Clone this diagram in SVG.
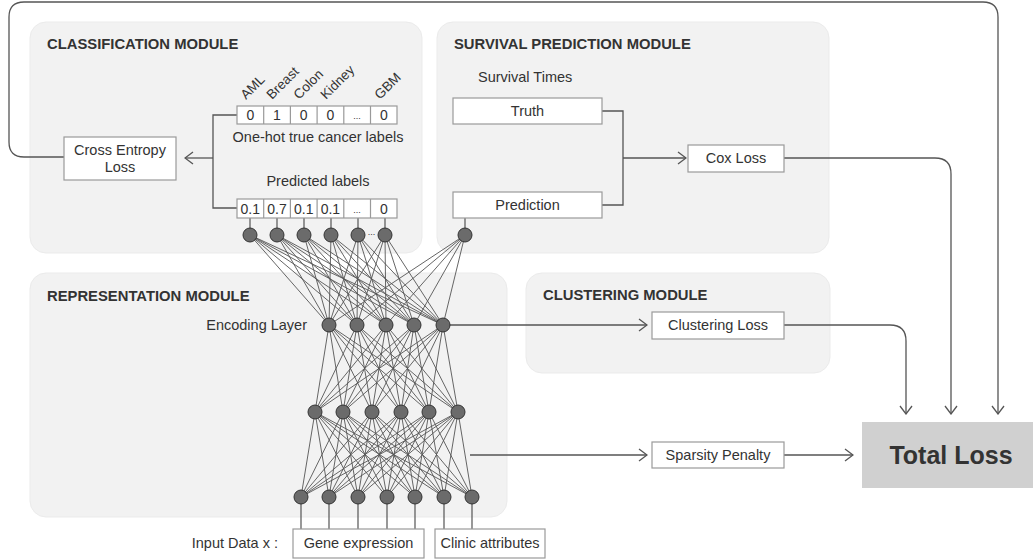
<svg xmlns="http://www.w3.org/2000/svg" width="1033" height="560" viewBox="0 0 1033 560">
<style>
text{font-family:"Liberation Sans",Arial,sans-serif;fill:#333}
.t{font-size:14.5px}
.c{font-size:14px;text-anchor:middle}
.m{text-anchor:middle}
.h{font-size:14.8px;font-weight:bold}
.lab{font-size:13.5px}
.mod{fill:#f2f2f2;stroke:#ebebeb;stroke-width:1}
.box{fill:#fff;stroke:#9a9a9a;stroke-width:1.2}
.ln{fill:none;stroke:#555;stroke-width:1.3}
.net{fill:none;stroke:#555;stroke-width:0.9}
.stem{fill:none;stroke:#555;stroke-width:1.2}
.nd{fill:#6b6b6b;stroke:#333;stroke-width:1}
</style>
<defs>
<marker id="arr" viewBox="0 0 10 14" refX="9" refY="7" markerWidth="10" markerHeight="14" orient="auto" markerUnits="userSpaceOnUse">
<path d="M1,1 L9,7 L1,13" fill="none" stroke="#555" stroke-width="1.3"/>
</marker>
</defs>

<g id="modules">
<rect id="classification-module" class="mod" x="30" y="22" width="392" height="231" rx="16"/>
<rect id="survival-module" class="mod" x="437" y="22" width="392" height="231" rx="16"/>
<rect id="representation-module" class="mod" x="30" y="273" width="477" height="244" rx="16"/>
<rect id="clustering-module" class="mod" x="526" y="273" width="304" height="100" rx="16"/>
<text class="h" x="47" y="49">CLASSIFICATION MODULE</text>
<text class="h" x="454" y="49">SURVIVAL PREDICTION MODULE</text>
<text class="h" x="47" y="301">REPRESENTATION MODULE</text>
<text class="h" x="543" y="300">CLUSTERING MODULE</text>
</g>

<g id="connectors">
<path class="ln" d="M64 157 H24 Q9 157 9 142 V17 Q9 2 24 2 H983 Q998 2 998 17 V414" marker-end="url(#arr)"/>
<path class="ln" d="M237 115 H213 V208 H237"/>
<path class="ln" d="M213 158 H185" marker-end="url(#arr)"/>
<path class="ln" d="M602 111 H623 V205 H602"/>
<path class="ln" d="M623 158 H686" marker-end="url(#arr)"/>
<path class="ln" d="M784 158 H935 Q951 158 951 174 V414" marker-end="url(#arr)"/>
<path class="ln" d="M443 325 H647" marker-end="url(#arr)"/>
<path class="ln" d="M784 325 H890 Q906 325 906 341 V414" marker-end="url(#arr)"/>
<path class="ln" d="M470 455 H647" marker-end="url(#arr)"/>
<path class="ln" d="M784 455 H853" marker-end="url(#arr)"/>
<path class="stem" d="M250 218V235M277 218V235M304 218V235M331 218V235M358 218V235M385 218V235M465 218V235"/>
<path class="stem" d="M301 497V529M329 497V529M358 497V529M387 497V529M415 497V529M444 497V529M472 497V529"/>
<path class="net" d="M250 235L329 325M250 235L357 325M250 235L386 325M250 235L414 325M250 235L443 325
M277 235L329 325M277 235L357 325M277 235L386 325M277 235L414 325M277 235L443 325
M304 235L329 325M304 235L357 325M304 235L386 325M304 235L414 325M304 235L443 325
M331 235L329 325M331 235L357 325M331 235L386 325M331 235L414 325M331 235L443 325
M358 235L329 325M358 235L357 325M358 235L386 325M358 235L414 325M358 235L443 325
M385 235L329 325M385 235L357 325M385 235L386 325M385 235L414 325M385 235L443 325
M465 235L329 325M465 235L357 325M465 235L386 325M465 235L414 325M465 235L443 325
M329 325L315 412M329 325L343 412M329 325L372 412M329 325L401 412M329 325L429 412M329 325L458 412
M357 325L315 412M357 325L343 412M357 325L372 412M357 325L401 412M357 325L429 412M357 325L458 412
M386 325L315 412M386 325L343 412M386 325L372 412M386 325L401 412M386 325L429 412M386 325L458 412
M414 325L315 412M414 325L343 412M414 325L372 412M414 325L401 412M414 325L429 412M414 325L458 412
M443 325L315 412M443 325L343 412M443 325L372 412M443 325L401 412M443 325L429 412M443 325L458 412
M315 412L301 497M315 412L329 497M315 412L358 497M315 412L387 497M315 412L415 497M315 412L444 497M315 412L472 497
M343 412L301 497M343 412L329 497M343 412L358 497M343 412L387 497M343 412L415 497M343 412L444 497M343 412L472 497
M372 412L301 497M372 412L329 497M372 412L358 497M372 412L387 497M372 412L415 497M372 412L444 497M372 412L472 497
M401 412L301 497M401 412L329 497M401 412L358 497M401 412L387 497M401 412L415 497M401 412L444 497M401 412L472 497
M429 412L301 497M429 412L329 497M429 412L358 497M429 412L387 497M429 412L415 497M429 412L444 497M429 412L472 497
M458 412L301 497M458 412L329 497M458 412L358 497M458 412L387 497M458 412L415 497M458 412L444 497M458 412L472 497"/>
</g>

<g id="network-nodes">
<g id="output-layer">
<circle class="nd" cx="250" cy="235" r="7"/><circle class="nd" cx="277" cy="235" r="7"/><circle class="nd" cx="304" cy="235" r="7"/><circle class="nd" cx="331" cy="235" r="7"/><circle class="nd" cx="358" cy="235" r="7"/><circle class="nd" cx="385" cy="235" r="7"/>
<text x="371.5" y="235" class="m" style="font-size:9px">...</text>
<circle class="nd" cx="465" cy="235" r="7"/>
</g>
<g id="encoding-layer">
<circle class="nd" cx="329" cy="325" r="7"/><circle class="nd" cx="357" cy="325" r="7"/><circle class="nd" cx="386" cy="325" r="7"/><circle class="nd" cx="414" cy="325" r="7"/><circle class="nd" cx="443" cy="325" r="7"/>
<text class="t" x="307" y="330" text-anchor="end">Encoding Layer</text>
</g>
<g id="hidden-layer">
<circle class="nd" cx="315" cy="412" r="7"/><circle class="nd" cx="343" cy="412" r="7"/><circle class="nd" cx="372" cy="412" r="7"/><circle class="nd" cx="401" cy="412" r="7"/><circle class="nd" cx="429" cy="412" r="7"/><circle class="nd" cx="458" cy="412" r="7"/>
</g>
<g id="input-layer">
<circle class="nd" cx="301" cy="497" r="7"/><circle class="nd" cx="329" cy="497" r="7"/><circle class="nd" cx="358" cy="497" r="7"/><circle class="nd" cx="387" cy="497" r="7"/><circle class="nd" cx="415" cy="497" r="7"/><circle class="nd" cx="444" cy="497" r="7"/><circle class="nd" cx="472" cy="497" r="7"/>
</g>
</g>

<g id="cancer-names">
<text class="lab" transform="translate(246,100) rotate(-45)">AML</text>
<text class="lab" transform="translate(272,100) rotate(-45)">Breast</text>
<text class="lab" transform="translate(299,100) rotate(-45)">Colon</text>
<text class="lab" transform="translate(326,100) rotate(-45)">Kidney</text>
<text class="lab" transform="translate(380,100) rotate(-45)">GBM</text>
</g>

<g id="one-hot-labels">
<rect class="box" x="237" y="106" width="160" height="18"/>
<path class="box" d="M263.7 106V124M290.4 106V124M317.1 106V124M343.8 106V124M370.5 106V124"/>
<text class="c" x="250.3" y="120">0</text><text class="c" x="277" y="120">1</text><text class="c" x="303.7" y="120">0</text><text class="c" x="330.4" y="120">0</text><text class="m" x="357.1" y="119" style="font-size:9px">...</text><text class="c" x="383.8" y="120">0</text>
<text class="t m" x="318" y="142">One-hot true cancer labels</text>
</g>

<g id="predicted-labels">
<text class="t m" x="318" y="186">Predicted labels</text>
<rect class="box" x="237" y="199" width="160" height="19"/>
<path class="box" d="M263.7 199V218M290.4 199V218M317.1 199V218M343.8 199V218M370.5 199V218"/>
<text class="c" x="250.3" y="213.5">0.1</text><text class="c" x="277" y="213.5">0.7</text><text class="c" x="303.7" y="213.5">0.1</text><text class="c" x="330.4" y="213.5">0.1</text><text class="m" x="357.1" y="212.5" style="font-size:9px">...</text><text class="c" x="383.8" y="213.5">0</text>
</g>

<g id="cross-entropy-loss">
<rect class="box" x="64" y="137" width="112" height="43"/>
<text class="t m" x="120" y="155">Cross Entropy</text>
<text class="t m" x="120" y="172">Loss</text>
</g>

<g id="survival-times">
<text class="t" x="478" y="82">Survival Times</text>
</g>
<g id="truth">
<rect class="box" x="453" y="98" width="149" height="26"/>
<text class="t m" x="527.5" y="116">Truth</text>
</g>
<g id="prediction">
<rect class="box" x="453" y="192" width="149" height="26"/>
<text class="t m" x="527.5" y="210">Prediction</text>
</g>
<g id="cox-loss">
<rect class="box" x="688" y="145" width="96" height="27"/>
<text class="t m" x="736" y="163">Cox Loss</text>
</g>
<g id="clustering-loss">
<rect class="box" x="652" y="312" width="132" height="27"/>
<text class="t m" x="718" y="330">Clustering Loss</text>
</g>
<g id="sparsity-penalty">
<rect class="box" x="652" y="442" width="132" height="26"/>
<text class="t m" x="718" y="460">Sparsity Penalty</text>
</g>
<g id="total-loss">
<rect x="862" y="422" width="171" height="66" fill="#d0d0d0"/>
<text x="951" y="464" text-anchor="middle" style="font-size:25px;font-weight:bold;fill:#333">Total Loss</text>
</g>
<g id="input-data">
<text class="t" x="278" y="548" text-anchor="end">Input Data x :</text>
</g>
<g id="gene-expression">
<rect class="box" x="293" y="529" width="131" height="29"/>
<text class="t m" x="358.5" y="548">Gene expression</text>
</g>
<g id="clinic-attributes">
<rect class="box" x="435" y="529" width="110" height="29"/>
<text class="t m" x="490" y="548">Clinic attributes</text>
</g>
</svg>
